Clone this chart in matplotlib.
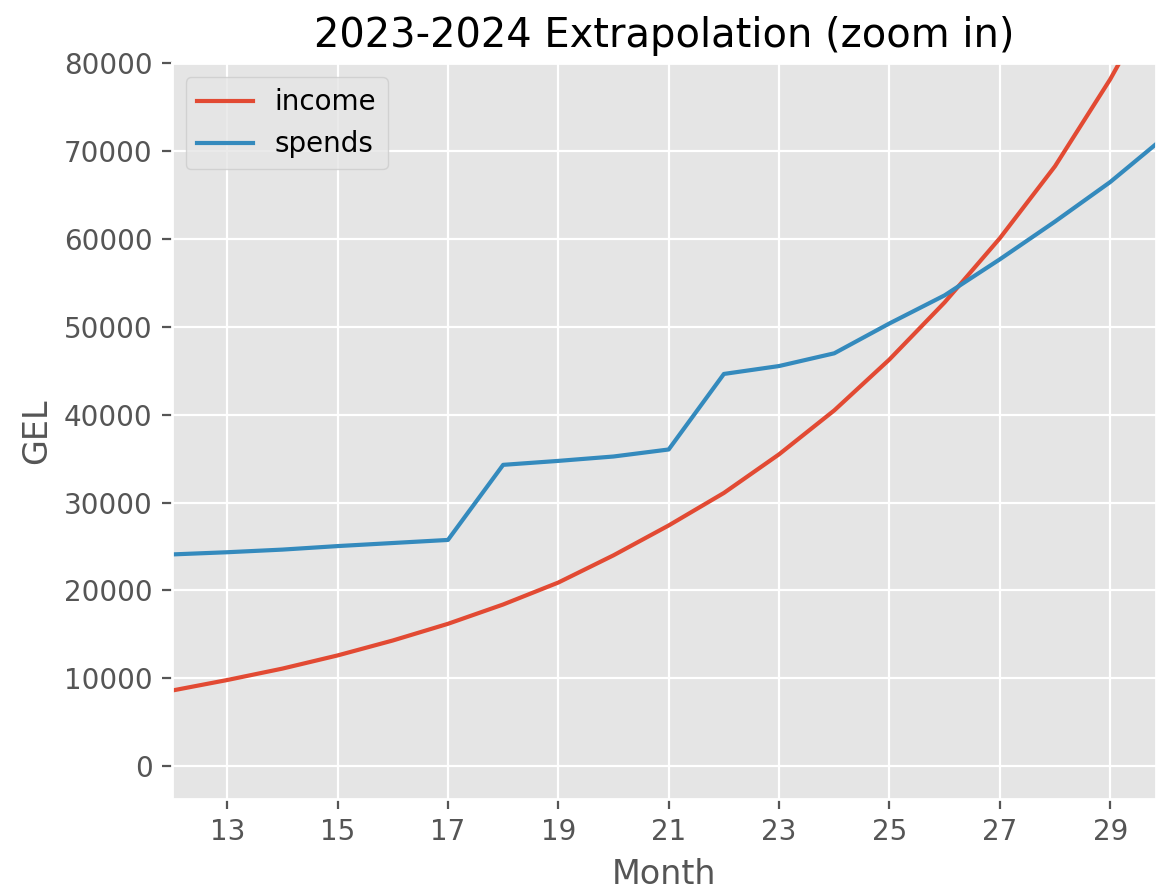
import matplotlib
matplotlib.use("Agg")
import matplotlib.pyplot as plt

plt.style.use("ggplot")

# Datos
months = list(range(12, 31))
income = [8600, 9800, 11100, 12600, 14300, 16200, 18400, 20900, 24000, 27400,
          31100, 35500, 40500, 46300, 52800, 60100, 68300, 78200, 89500]
spends = [24100, 24350, 24650, 25050, 25400, 25750, 34300, 34750, 35250, 36050,
          44650, 45550, 47000, 50400, 53600, 57700, 62000, 66500, 71700]

dpi = 200
fig = plt.figure(figsize=(1156 / dpi, 889 / dpi), dpi=dpi)
ax = fig.add_axes([0.1488, 0.1012, 0.8512, 0.8274])

ax.plot(months, income, label="income")
ax.plot(months, spends, label="spends")

ax.set_xlim(12, 29.83)
ax.set_ylim(-3750, 80000)
ax.set_xticks(range(13, 30, 2))
ax.set_xlabel("Month")
ax.set_ylabel("GEL")
ax.set_title("2023-2024 Extrapolation (zoom in)")
ax.legend(loc="upper left")

fig.savefig("out.png", dpi=dpi)
